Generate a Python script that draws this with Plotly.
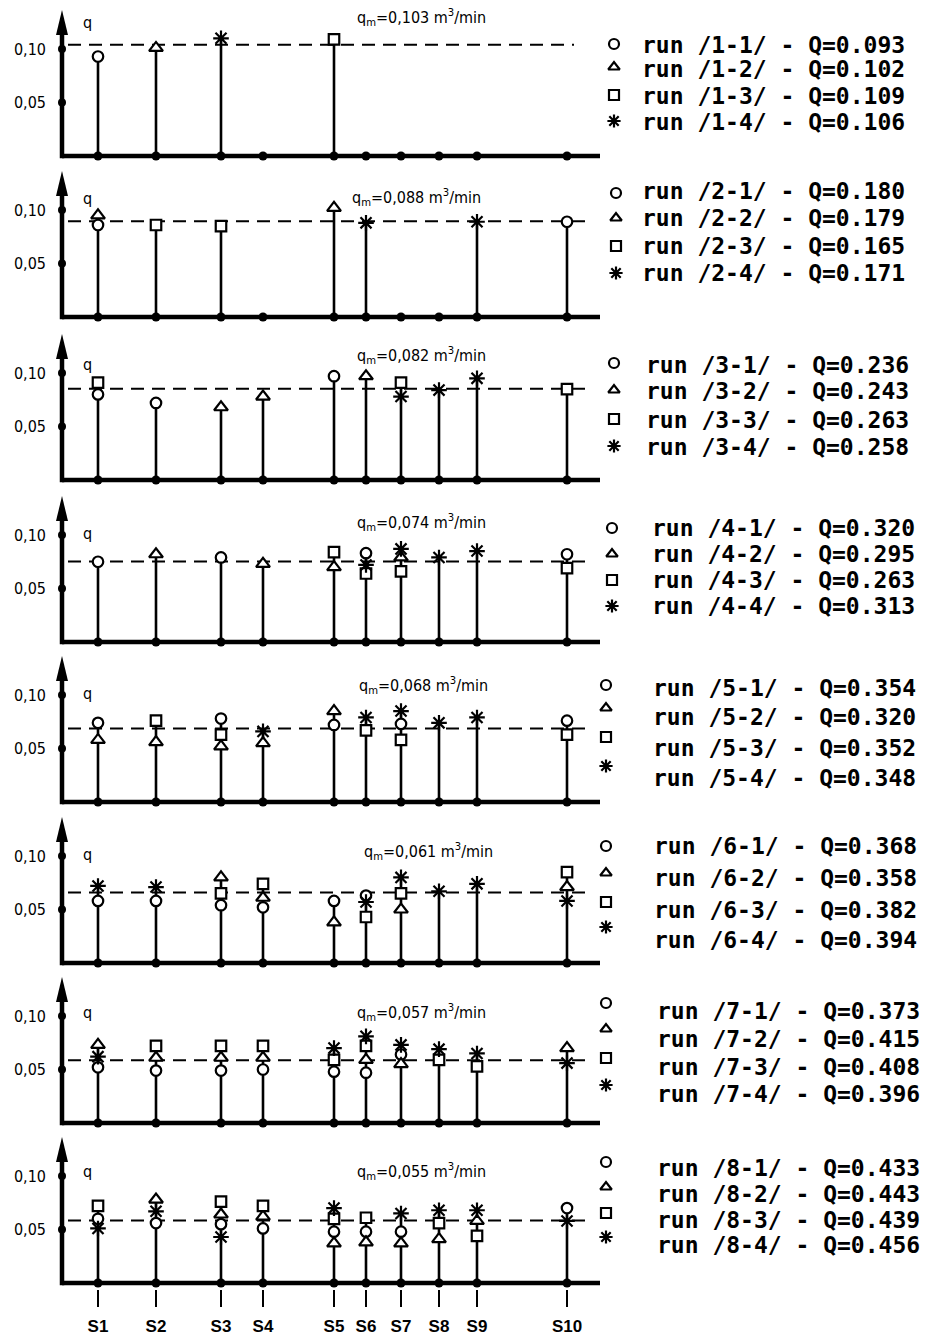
import plotly.graph_objects as go

# ---------------- data ----------------
stations = ["S1", "S2", "S3", "S4", "S5", "S6", "S7", "S8", "S9", "S10"]
station_pos = [36, 94, 159, 201, 272, 304, 339, 377, 415, 505]

run_symbols = ["circle", "triangle-up", "square", "asterisk-open"]

qm_values = [0.103, 0.088, 0.082, 0.074, 0.068, 0.061, 0.057, 0.055]
qm_line = [0.104, 0.0896, 0.0853, 0.0753, 0.0688, 0.066, 0.0586, 0.0583]

Q_run = [
    [0.093, 0.102, 0.109, 0.106],
    [0.180, 0.179, 0.165, 0.171],
    [0.236, 0.243, 0.263, 0.258],
    [0.320, 0.295, 0.263, 0.313],
    [0.354, 0.320, 0.352, 0.348],
    [0.368, 0.358, 0.382, 0.394],
    [0.373, 0.415, 0.408, 0.396],
    [0.433, 0.443, 0.439, 0.456],
]

N = None
p1_c = [0.093, N, N, N, N, N, N, N, N, N]
p1_t = [N, 0.101, N, N, N, N, N, N, N, N]
p1_s = [N, N, N, N, 0.109, N, N, N, N, N]
p1_a = [N, N, 0.110, N, N, N, N, N, N, N]

p2_c = [0.086, N, N, N, N, N, N, N, N, 0.089]
p2_t = [0.095, N, N, N, 0.102, N, N, N, N, N]
p2_s = [N, 0.086, 0.085, N, N, N, N, N, N, N]
p2_a = [N, N, N, N, N, 0.088, N, N, 0.089, N]

p3_c = [0.080, 0.072, N, N, 0.097, N, N, N, N, N]
p3_t = [N, N, 0.068, 0.078, N, 0.097, N, N, N, N]
p3_s = [0.091, N, N, N, N, N, 0.091, N, N, 0.085]
p3_a = [N, N, N, N, N, N, 0.078, 0.084, 0.095, N]

p4_c = [0.075, N, 0.079, N, N, 0.083, N, N, N, 0.082]
p4_t = [N, 0.082, N, 0.073, 0.070, N, 0.079, N, N, N]
p4_s = [N, N, N, N, 0.084, 0.064, 0.066, N, N, 0.069]
p4_a = [N, N, N, N, N, 0.072, 0.087, 0.079, 0.085, N]

p5_c = [0.074, N, 0.078, N, 0.072, N, 0.073, N, N, 0.076]
p5_t = [0.058, 0.056, 0.052, 0.055, 0.085, N, N, N, N, N]
p5_s = [N, 0.076, 0.063, N, N, 0.067, 0.058, N, N, 0.063]
p5_a = [N, N, N, 0.066, N, 0.079, 0.085, 0.074, 0.079, N]

p6_c = [0.058, 0.058, 0.054, 0.052, 0.058, 0.063, N, N, N, N]
p6_t = [N, N, 0.080, 0.061, 0.038, N, 0.050, N, N, 0.071]
p6_s = [N, N, 0.065, 0.074, N, 0.043, 0.065, N, N, 0.085]
p6_a = [0.072, 0.071, N, N, N, 0.057, 0.080, 0.067, 0.074, 0.058]

p7_c = [0.052, 0.049, 0.049, 0.050, 0.048, 0.047, 0.064, N, N, N]
p7_t = [0.073, 0.061, 0.061, 0.061, N, 0.059, 0.055, N, N, 0.070]
p7_s = [N, 0.072, 0.072, 0.072, 0.059, 0.072, N, 0.059, 0.053, N]
p7_a = [0.062, N, N, N, 0.070, 0.081, 0.073, 0.069, 0.065, 0.056]

p8_c = [0.060, 0.056, 0.055, 0.051, 0.048, 0.048, 0.048, N, N, 0.070]
p8_t = [N, 0.078, 0.064, 0.062, 0.037, 0.038, 0.037, 0.041, 0.058, N]
p8_s = [0.072, N, 0.076, 0.072, 0.060, 0.061, N, 0.056, 0.044, N]
p8_a = [0.051, 0.067, 0.043, N, 0.070, N, 0.065, 0.068, 0.068, 0.058]

panels = [
    [p1_c, p1_t, p1_s, p1_a],
    [p2_c, p2_t, p2_s, p2_a],
    [p3_c, p3_t, p3_s, p3_a],
    [p4_c, p4_t, p4_s, p4_a],
    [p5_c, p5_t, p5_s, p5_a],
    [p6_c, p6_t, p6_s, p6_a],
    [p7_c, p7_t, p7_s, p7_a],
    [p8_c, p8_t, p8_s, p8_a],
]

# ---------------- layout constants ----------------
W, H = 928, 1340
BASE_PX = [156, 317, 480, 642, 802, 963, 1123, 1283]
PX_PER_UNIT = 1070
YMIN, YMAX = -0.006, 0.14
AXIS_PX = 62
XMIN, XMAX = -12, 540
BASE_END = 538

Q_LABEL_Y = [0.125, 0.111, 0.108, 0.101, 0.101, 0.101, 0.103, 0.104]
QM_LABEL_Y = [0.129, 0.112, 0.116, 0.112, 0.109, 0.104, 0.103, 0.104]
QM_LABEL_X = [293, 288, 293, 293, 295, 300, 293, 293]
DASH_END = [512, 525, 525, 525, 525, 525, 525, 525]

LEG_TEXT_X = [640, 640, 644, 650, 651, 652, 655, 655]
LEG_SYM_X = [614, 616, 614, 612, 606, 606, 606, 606]
LEG_TEXT_Y = [[45, 69, 96, 122], [191, 218, 246, 273], [365, 391, 420, 447],
              [528, 554, 580, 606], [688, 717, 748, 778], [846, 878, 910, 940],
              [1011, 1039, 1067, 1094], [1168, 1194, 1220, 1245]]
LEG_SYM_Y = [[44, 67, 95, 121], [193, 218, 246, 273], [363, 390, 419, 446],
             [528, 554, 580, 606], [685, 708, 737, 766], [846, 873, 902, 927],
             [1003, 1029, 1058, 1085], [1162, 1187, 1213, 1237]]

NARROW = "Liberation Sans Narrow, DejaVu Sans Condensed, Liberation Sans, Arial"
MONO = "DejaVu Sans Mono"


def marker_style(sym, size):
    if sym == "asterisk-open":
        return dict(symbol=sym, size=size + 1, color="black",
                    line=dict(color="black", width=2.2))
    return dict(symbol=sym, size=size, color="white",
                line=dict(color="black", width=2.2))


fig = go.Figure()
layout = dict(
    width=W, height=H, margin=dict(l=0, r=0, t=0, b=0),
    paper_bgcolor="white", plot_bgcolor="rgba(0,0,0,0)",
    showlegend=False,
)
shapes = []
annotations = []

for i in range(8):
    k = i + 1
    sx = "" if k == 1 else str(k)
    xname, yname = "x" + sx, "y" + sx
    top_px = BASE_PX[i] - YMAX * PX_PER_UNIT
    bot_px = BASE_PX[i] - YMIN * PX_PER_UNIT
    xaxis = dict(domain=[(AXIS_PX + XMIN) / W, (AXIS_PX + XMAX) / W],
                 range=[XMIN, XMAX], anchor=yname, showgrid=False,
                 zeroline=False, showline=False, fixedrange=True,
                 showticklabels=False, ticks="")
    if k == 8:
        xaxis.update(tickvals=station_pos, ticktext=stations, showticklabels=True,
                     ticks="outside", ticklen=17, tickwidth=2.2, tickcolor="black",
                     ticklabelstandoff=4,
                     tickfont=dict(family="Liberation Sans, Arial", size=17,
                                   color="black", weight="bold"))
    yaxis = dict(domain=[1 - bot_px / H, 1 - top_px / H], range=[YMIN, YMAX],
                 anchor=xname, showgrid=False, zeroline=False, showline=False,
                 fixedrange=True, tickvals=[0.05, 0.10], ticktext=["0,05", "0,10"],
                 ticks="", ticklabelstandoff=3,
                 tickfont=dict(family=NARROW, size=16, color="black"))
    layout["xaxis" + sx] = xaxis
    layout["yaxis" + sx] = yaxis

    runs = panels[i]
    # stems
    sxs, sys = [], []
    for j, p in enumerate(station_pos):
        vals = [r[j] for r in runs if r[j] is not None]
        if vals:
            sxs += [p, p, None]
            sys += [0, max(vals), None]
    fig.add_trace(go.Scatter(x=sxs, y=sys, mode="lines", xaxis=xname, yaxis=yname,
                             line=dict(color="black", width=2.6), hoverinfo="skip"))
    # baseline
    fig.add_trace(go.Scatter(x=[0, BASE_END], y=[0, 0], mode="lines", xaxis=xname,
                             yaxis=yname, line=dict(color="black", width=4.5),
                             hoverinfo="skip"))
    # y axis line
    fig.add_trace(go.Scatter(x=[0, 0], y=[-0.002, 0.118], mode="lines", xaxis=xname,
                             yaxis=yname, line=dict(color="black", width=4.5),
                             hoverinfo="skip"))
    # mean dashed line
    fig.add_trace(go.Scatter(x=[6, DASH_END[i]], y=[qm_line[i], qm_line[i]],
                             mode="lines", xaxis=xname, yaxis=yname,
                             line=dict(color="black", width=2, dash="13px,8px"),
                             hoverinfo="skip"))
    # dots on baseline and axis
    fig.add_trace(go.Scatter(x=station_pos, y=[0] * len(station_pos), mode="markers",
                             xaxis=xname, yaxis=yname, cliponaxis=False,
                             marker=dict(color="black", size=9), hoverinfo="skip"))
    fig.add_trace(go.Scatter(x=[0, 0], y=[0.05, 0.10], mode="markers",
                             xaxis=xname, yaxis=yname, cliponaxis=False,
                             marker=dict(color="black", size=8), hoverinfo="skip"))
    # run markers
    for r, sym in zip(runs, run_symbols):
        xs = [p for p, v in zip(station_pos, r) if v is not None]
        ys = [v for v in r if v is not None]
        size = 12 if sym in ("asterisk-open", "triangle-up") else 10.5
        fig.add_trace(go.Scatter(x=xs, y=ys, mode="markers", xaxis=xname, yaxis=yname,
                                 cliponaxis=False, marker=marker_style(sym, size),
                                 hoverinfo="skip"))
    # arrow head
    shapes.append(dict(type="path", xref=xname, yref=yname, xsizemode="pixel",
                       ysizemode="pixel", xanchor=0, yanchor=0.113,
                       path="M -6,0 L 6,0 L 0,25 Z", fillcolor="black",
                       line=dict(width=0)))
    # q label
    annotations.append(dict(x=19, y=Q_LABEL_Y[i], xref=xname, yref=yname, text="q",
                            showarrow=False, xanchor="left", yanchor="middle",
                            font=dict(family=NARROW, size=16, color="black")))
    # qm label
    qtxt = "q<sub>m</sub>=" + f"{qm_values[i]:.3f}".replace(".", ",") + " m<sup>3</sup>/min"
    annotations.append(dict(x=QM_LABEL_X[i], y=QM_LABEL_Y[i], xref=xname, yref=yname,
                            text=qtxt, showarrow=False, xanchor="left",
                            yanchor="middle",
                            font=dict(family=NARROW, size=16, color="black")))

# overlay pixel axis for the run legends
layout["xaxis9"] = dict(domain=[0, 1], range=[0, W], anchor="y9", visible=False,
                        fixedrange=True)
layout["yaxis9"] = dict(domain=[0, 1], range=[H, 0], anchor="x9", visible=False,
                        fixedrange=True)
for i in range(8):
    for j, sym in enumerate(run_symbols):
        fig.add_trace(go.Scatter(x=[LEG_SYM_X[i]], y=[LEG_SYM_Y[i][j]], mode="markers",
                                 xaxis="x9", yaxis="y9", cliponaxis=False,
                                 marker=marker_style(sym, 10), hoverinfo="skip"))
        txt = f"run /{i + 1}-{j + 1}/ - Q={Q_run[i][j]:.3f}"
        annotations.append(dict(x=LEG_TEXT_X[i], y=LEG_TEXT_Y[i][j], xref="x9",
                                yref="y9", text=txt, showarrow=False,
                                xanchor="left", yanchor="middle",
                                font=dict(family=MONO, size=23, color="black",
                                          weight="bold")))

layout["shapes"] = shapes
layout["annotations"] = annotations
fig.update_layout(**layout)
fig.write_html(
    "out.html",
    config={"displayModeBar": False, "staticPlot": True},
    post_script="document.body.style.margin='0px';"
                "document.body.style.overflow='hidden';"
                "document.documentElement.style.overflow='hidden';",
)
